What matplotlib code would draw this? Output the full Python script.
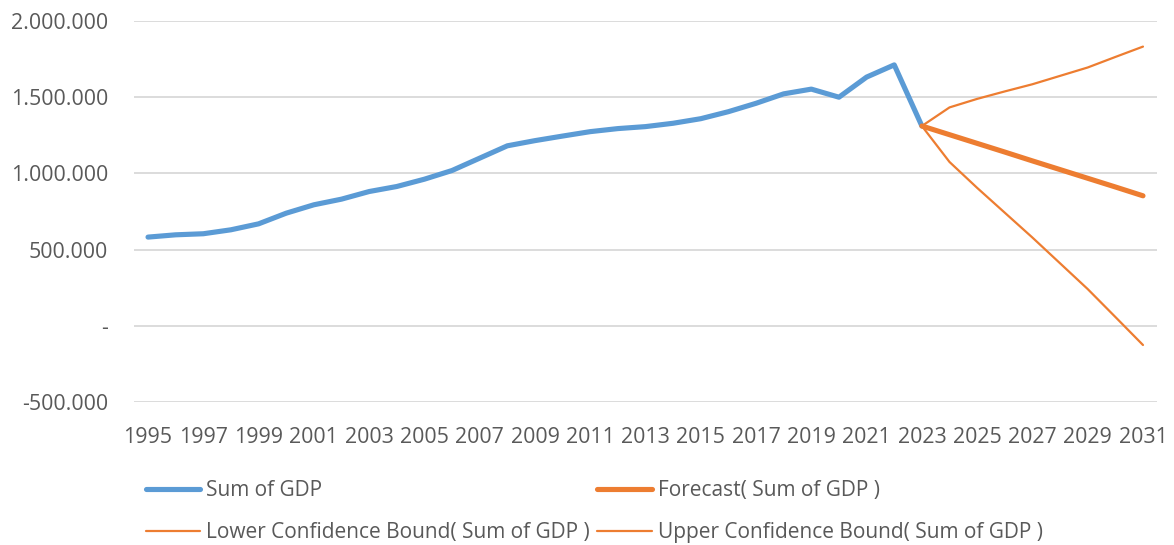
import matplotlib
matplotlib.use("Agg")
import matplotlib.pyplot as plt
from matplotlib.ticker import FuncFormatter, MultipleLocator

# Historical GDP
years_hist = list(range(1995, 2024))
gdp = [582000, 597000, 604000, 630000, 669000, 739000, 794000, 831000, 881000,
       914000, 962000, 1019000, 1100000, 1181000, 1215000, 1245000, 1274000,
       1294000, 1307000, 1329000, 1359000, 1405000, 1460000, 1522000, 1553000,
       1500000, 1632000, 1712000, 1311000]

# Forecast with confidence bounds
years_fc = list(range(2023, 2032))
forecast = [1311000, 1254000, 1197000, 1140000, 1082000, 1025000, 968000, 911000, 853000]
lower = [1311000, 1075000, 905000, 742000, 579000, 410000, 241000, 58000, -126000]
upper = [1311000, 1433000, 1489000, 1538000, 1585000, 1640000, 1695000, 1764000, 1832000]

x_ticks = list(range(1995, 2032, 2))

BLUE = "#5B9BD5"
ORANGE = "#ED7D31"
TEXT = "#595959"
GRID = "#D9D9D9"

plt.rcParams["font.family"] = ["Open Sans", "DejaVu Sans"]

W, H = 1174, 545
fig = plt.figure(figsize=(W / 100, H / 100), dpi=100)
ax = fig.add_axes([134.2 / W, 1 - 402 / H, (1156.8 - 134.2) / W, (402 - 21) / H])

ax.plot(years_hist, gdp, color=BLUE, lw=3.7, solid_capstyle="round",
        solid_joinstyle="round", label="Sum of GDP", zorder=3)
ax.plot(years_fc, forecast, color=ORANGE, lw=3.7, solid_capstyle="round",
        solid_joinstyle="round", label="Forecast( Sum of GDP )", zorder=4)
ax.plot(years_fc, lower, color=ORANGE, lw=1.6, solid_capstyle="round",
        label="Lower Confidence Bound( Sum of GDP )", zorder=4)
ax.plot(years_fc, upper, color=ORANGE, lw=1.6, solid_capstyle="round",
        label="Upper Confidence Bound( Sum of GDP )", zorder=4)

ax.set_xlim(1994.5, 2031.5)
ax.set_ylim(-500000, 2000000)
ax.set_xticks(x_ticks)
ax.set_xticklabels([str(y) for y in x_ticks])
ax.yaxis.set_major_locator(MultipleLocator(500000))


def euro_fmt(v, pos):
    if abs(v) < 1:
        return "-"
    s = f"{abs(int(round(v))):,}".replace(",", ".")
    return ("-" if v < 0 else "") + s


ax.yaxis.set_major_formatter(FuncFormatter(euro_fmt))
ax.grid(axis="y", color=GRID, lw=1.3)
ax.set_axisbelow(True)
for sp in ax.spines.values():
    sp.set_visible(False)
ax.tick_params(axis="both", length=0, labelsize=15.4, colors=TEXT)
ax.tick_params(axis="y", pad=19)
ax.tick_params(axis="x", pad=18)

h, l = ax.get_legend_handles_labels()
order = [0, 2, 1, 3]
fig.legend([h[i] for i in order], [l[i] for i in order], ncol=2,
           loc="upper left", bbox_to_anchor=(146 / W, 1 - 480 / H),
           frameon=False, fontsize=15, labelcolor=TEXT, handlelength=2.6,
           handletextpad=0.3, columnspacing=0.35, labelspacing=1.0,
           borderpad=0, borderaxespad=0)

fig.savefig("out.png", dpi=100)
